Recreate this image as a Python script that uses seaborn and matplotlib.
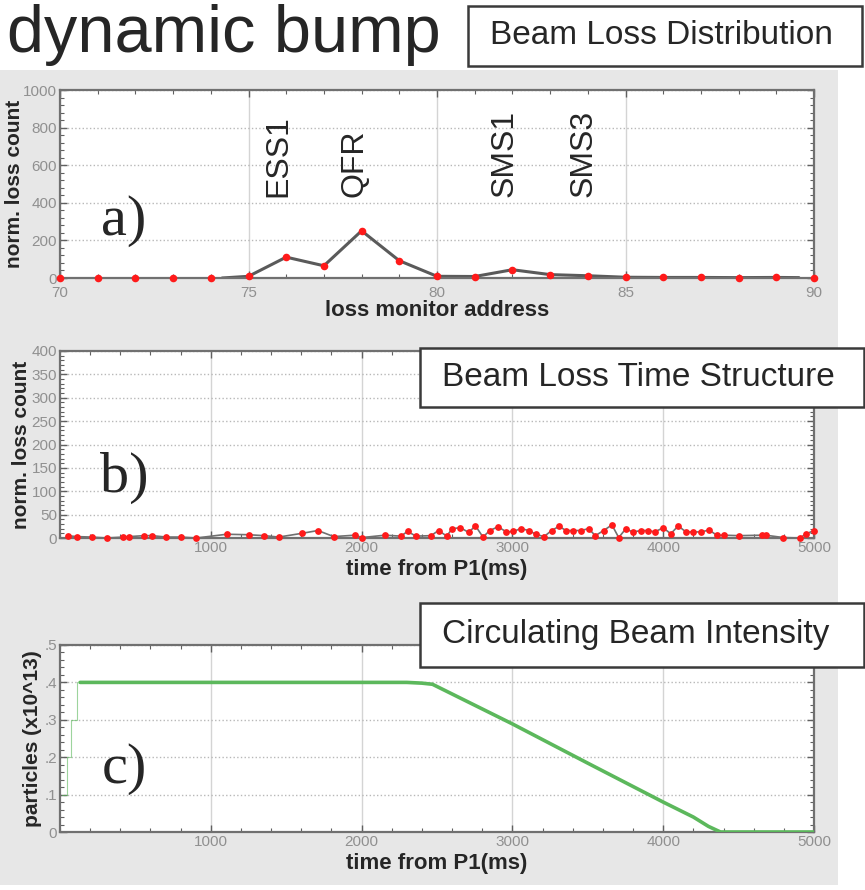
import matplotlib
matplotlib.use('Agg')
import matplotlib.pyplot as plt
import matplotlib.ticker as mticker
import seaborn as sns
from matplotlib.patches import Rectangle


# a) beam loss distribution, one reading per loss monitor
monitor_address = [70, 71, 72, 73, 74, 75, 76, 77, 78, 79, 80,
                   81, 82, 83, 84, 85, 86, 87, 88, 89, 90]
monitor_loss = [0, 0, 0, 0, 0, 9, 111, 65, 251, 92, 9,
                5, 44, 18, 12, 5, 5, 5, 0, 5, 0]
# grey trace drawn under the monitor points
trace_address = [74.3, 75, 76, 77, 78, 79, 80, 81, 82, 83, 84, 85, 86, 87, 88, 89, 89.6]
trace_loss = [0, 9, 111, 65, 251, 92, 9, 8, 44, 18, 12, 4, 3, 3, 2, 3, 2]
peak_names = ['ESS1', 'QFR', 'SMS1', 'SMS3']
peak_address = [75.8, 77.8, 81.8, 83.9]

# b) beam loss time structure
loss_time = [50, 110, 210, 310, 420, 460, 555, 610, 705, 800, 905, 1105, 1250, 1355,
             1450, 1605, 1710, 1815, 1955, 2005, 2155, 2260, 2305, 2360, 2460, 2510,
             2565, 2600, 2655, 2710, 2755, 2805, 2850, 2905, 2960, 3005, 3055, 3110,
             3155, 3210, 3260, 3310, 3355, 3405, 3455, 3505, 3550, 3605, 3660, 3705,
             3750, 3800, 3855, 3900, 3945, 4000, 4050, 4100, 4150, 4200, 4250, 4305,
             4355, 4405, 4500, 4655, 4680, 4795, 4905, 4950, 5000]
loss_count = [5, 3, 2, 0, 2, 3, 5, 5, 2, 2, 0, 8, 7, 5,
              2, 10, 16, 3, 6, 1, 6, 4, 14, 4, 5, 16,
              4, 20, 22, 12, 26, 2, 16, 24, 13, 14, 20, 16,
              8, 3, 16, 25, 16, 16, 16, 20, 5, 16, 28, 1,
              19, 13, 16, 16, 13, 22, 9, 26, 13, 13, 13, 17,
              6, 6, 5, 6, 6, 1, 0, 9, 16]

# c) circulating beam intensity (x10^13 particles)
intensity_time = [133, 1000, 2000, 2300, 2400, 2470, 3000, 3500, 4000, 4200, 4300, 4380, 4500, 5000]
intensity = [0.4, 0.4, 0.4, 0.4, 0.398, 0.395, 0.289, 0.184, 0.08, 0.04, 0.015, 0.0, 0.0, 0.0]
# injection steps at the very start
ramp_time = [15, 45, 70, 110]
ramp_intensity = [0.1, 0.2, 0.3, 0.4]

W, H = 865, 890


# figure pixel box -> add_axes rect
def fig_box(left, top, right, bottom):
    return [left / W, 1 - bottom / H, (right - left) / W, (bottom - top) / H]


def fig_xy(x, y):
    return x / W, 1 - y / H


# matlab-ish axes: inward ticks all round, dotted horizontal grid
def setup_axes(ax, xlim, ylim, xticks, xminor, ymajor, yminor):
    ax.set_facecolor('white')
    ax.set_xlim(*xlim)
    ax.set_ylim(*ylim)
    ax.xaxis.set_major_locator(mticker.FixedLocator(xticks))
    ax.xaxis.set_minor_locator(mticker.MultipleLocator(xminor))
    ax.yaxis.set_major_locator(mticker.MultipleLocator(ymajor))
    ax.yaxis.set_minor_locator(mticker.MultipleLocator(yminor))
    for s in ax.spines.values():
        s.set_visible(True)
        s.set_color('#707070')
        s.set_linewidth(1.6)
    ax.tick_params(which='both', direction='in', top=True, right=True,
                   colors='#606060', labelcolor='#909090', labelsize=11, pad=2)
    ax.tick_params(which='major', length=5, width=1)
    ax.tick_params(which='minor', length=3, width=0.8)
    ax.grid(axis='y', which='major', ls=':', color='#b8b8b8', lw=1)
    ax.grid(axis='x', which='major', ls='-', color='#d4d4d4', lw=1)
    ax.set_axisbelow(True)


def set_labels(ax, xlabel, ylabel, ylabel_x):
    ax.set_xlabel(xlabel, fontsize=16, fontweight='bold', family='Liberation Sans', va='center')
    ax.xaxis.set_label_coords(0.5, -32 / 187)
    ax.set_ylabel(ylabel, fontsize=15, fontweight='bold', family='Liberation Sans', va='center')
    ax.yaxis.set_label_coords((ylabel_x - 60) / 754, 0.5)


def label_box(fig, left, top, right, bottom, text):
    fig.add_artist(Rectangle(fig_xy(left, bottom), (right - left) / W, (bottom - top) / H,
                             transform=fig.transFigure, fc='white', ec='#3a3a3a', lw=1.8, zorder=5))
    fig.text(*fig_xy(left + 22, (top + bottom) / 2), text, fontsize=24,
             family='Liberation Sans', ha='left', va='center', zorder=6)


def panel_letter(fig, x, y, text):
    fig.text(*fig_xy(x, y), text, fontsize=42, family='Liberation Serif',
             ha='center', va='center', zorder=6)


sns.set_style('ticks')
plt.rcParams['font.family'] = ['Liberation Sans', 'DejaVu Sans']

fig = plt.figure(figsize=(W / 100, H / 100), dpi=100, facecolor='white')
fig.add_artist(Rectangle(fig_xy(0, 885), 838 / W, 815 / H, transform=fig.transFigure,
                         fc='#e7e7e7', ec='none', zorder=-1))

fig.text(*fig_xy(7, 52), 'dynamic bump', fontsize=48, family='Liberation Sans',
         ha='left', va='baseline')

# a) loss distribution
ax_a = fig.add_axes(fig_box(60, 90, 814, 278))
setup_axes(ax_a, (70, 90), (0, 1000), [70, 75, 80, 85, 90], 1, 200, 40)
ax_a.tick_params(axis='x', which='major', pad=6)
sns.lineplot(x=trace_address, y=trace_loss, ax=ax_a, color='#5a5a5a', lw=2.2,
             estimator=None, zorder=2)
sns.scatterplot(x=monitor_address, y=monitor_loss, ax=ax_a, color='#ff1a1a', s=30,
                linewidth=0, zorder=3, clip_on=False)
for name, addr in zip(peak_names, peak_address):
    ax_a.text(addr, 430, name, rotation=90, ha='center', va='bottom', fontsize=23,
              family='Liberation Sans')
set_labels(ax_a, 'loss monitor address', 'norm. loss count', 15)
ax_a.xaxis.set_label_coords(0.5, -32 / 188)

# b) loss time structure
ax_b = fig.add_axes(fig_box(60, 351, 814, 538))
setup_axes(ax_b, (0, 5000), (0, 400), [1000, 2000, 3000, 4000, 5000], 200, 50, 10)
sns.lineplot(x=loss_time, y=loss_count, ax=ax_b, color='#707070', lw=1.2,
             estimator=None, zorder=2)
sns.scatterplot(x=loss_time, y=loss_count, ax=ax_b, color='#ff1a1a', s=24,
                linewidth=0, zorder=3, clip_on=False)
set_labels(ax_b, 'time from P1(ms)', 'norm. loss count', 22)

# c) circulating intensity
ax_c = fig.add_axes(fig_box(60, 645, 814, 832))
setup_axes(ax_c, (0, 5000), (0, 0.5), [1000, 2000, 3000, 4000, 5000], 200, 0.1, 0.02)
ax_c.yaxis.set_major_formatter(mticker.FuncFormatter(
    lambda v, p: '0' if abs(v) < 1e-9 else ('%.1f' % v).lstrip('0')))
sns.lineplot(x=ramp_time, y=ramp_intensity, ax=ax_c, color='#5cb85c', lw=0.8,
             alpha=0.6, estimator=None, drawstyle='steps-post', zorder=2)
sns.lineplot(x=intensity_time, y=intensity, ax=ax_c, color='#5cb85c', lw=2.6,
             estimator=None, zorder=3)
set_labels(ax_c, 'time from P1(ms)', 'particles (x10^13)', 33)

label_box(fig, 468, 6, 862, 66, 'Beam Loss Distribution')
label_box(fig, 420, 348, 864, 407, 'Beam Loss Time Structure')
label_box(fig, 420, 603, 864, 667, 'Circulating Beam Intensity')

panel_letter(fig, 124, 221, 'a)')
panel_letter(fig, 124, 478, 'b)')
panel_letter(fig, 124, 769, 'c)')

fig.savefig('out.png', dpi=100)
